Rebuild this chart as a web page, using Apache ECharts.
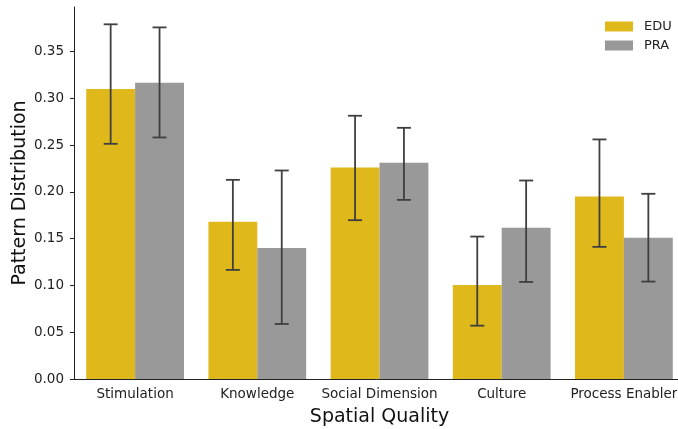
<!DOCTYPE html>
<html><head><meta charset="utf-8">
<script src="https://cdn.jsdelivr.net/npm/echarts@6/dist/echarts.min.js"></script>
<style>html,body{margin:0;padding:0;background:#fff}#c{width:678px;height:429px}</style>
</head><body><div id="c"></div>
<script>
const categories = ['Stimulation', 'Knowledge', 'Social Dimension', 'Culture', 'Process Enabler'];
const eduValues = [0.310, 0.168, 0.226, 0.1005, 0.195];
const praValues = [0.3165, 0.140, 0.231, 0.1615, 0.1508];
const eduLow  = [0.2513, 0.1166, 0.1697, 0.0570, 0.1412];
const eduHigh = [0.3790, 0.2128, 0.2813, 0.1522, 0.2560];
const praLow  = [0.2581, 0.0588, 0.1914, 0.1037, 0.1041];
const praHigh = [0.3757, 0.2228, 0.2684, 0.2121, 0.1979];
const yTicks = [0, 0.05, 0.10, 0.15, 0.20, 0.25, 0.30, 0.35];

const FONT = 'DejaVu Sans';
const chart = echarts.init(document.getElementById('c'), null, {renderer: 'canvas'});

function errSeries(low, high, offset) {
  return {
    type: 'custom',
    silent: true,
    z: 10,
    clip: false,
    data: categories.map((c, i) => [i, low[i], high[i]]),
    encode: {x: 0, y: [1, 2]},
    renderItem: function (params, api) {
      const i = api.value(0);
      const band = api.size([1, 0])[0];
      const p1 = api.coord([i, api.value(1)]);
      const p2 = api.coord([i, api.value(2)]);
      const x = p1[0] + offset * band;
      const hw = 7;
      const style = {stroke: '#3f3f3f', lineWidth: 1.8};
      return {
        type: 'group',
        children: [
          {type: 'line', shape: {x1: x, y1: p1[1], x2: x, y2: p2[1]}, style: style},
          {type: 'line', shape: {x1: x - hw, y1: p1[1], x2: x + hw, y2: p1[1]}, style: style},
          {type: 'line', shape: {x1: x - hw, y1: p2[1], x2: x + hw, y2: p2[1]}, style: style}
        ]
      };
    }
  };
}

chart.setOption({
  animation: false,
  backgroundColor: '#fff',
  textStyle: {fontFamily: FONT},
  grid: {left: 74, width: 611, top: 7, bottom: 50, containLabel: false, outerBoundsMode: 'none'},
  legend: {
    data: ['EDU', 'PRA'],
    orient: 'vertical',
    left: 605, top: 20, padding: 0,
    itemWidth: 28, itemHeight: 10, itemGap: 6,
    icon: 'rect',
    textStyle: {fontFamily: FONT, fontSize: 13, color: '#222', padding: [0, 0, 0, 6]}
  },
  xAxis: {
    type: 'category',
    data: categories,
    name: 'Spatial Quality',
    nameLocation: 'middle',
    nameGap: 29,
    nameMoveOverlap: false,
    nameTextStyle: {fontFamily: FONT, fontSize: 19, color: '#111'},
    axisLine: {lineStyle: {color: '#222', width: 1}},
    axisTick: {alignWithLabel: true, length: 4, lineStyle: {color: '#222'}},
    axisLabel: {fontFamily: FONT, fontSize: 13.5, color: '#222', margin: 8, interval: 0}
  },
  yAxis: {
    type: 'value',
    min: 0, max: 0.3975,
    name: 'Pattern Distribution',
    nameLocation: 'middle',
    nameGap: 44,
    nameMoveOverlap: false,
    nameTextStyle: {fontFamily: FONT, fontSize: 19, color: '#111'},
    splitLine: {show: false},
    axisLine: {show: true, lineStyle: {color: '#222', width: 1}},
    axisTick: {show: true, length: 4, lineStyle: {color: '#222'}, customValues: yTicks},
    axisLabel: {fontFamily: FONT, fontSize: 13.5, color: '#222', margin: 10,
      customValues: yTicks, formatter: v => v.toFixed(2)}
  },
  series: [
    {name: 'EDU', type: 'bar', data: eduValues, itemStyle: {color: '#DFB81C'},
      barGap: '0%', barCategoryGap: '20%'},
    {name: 'PRA', type: 'bar', data: praValues, itemStyle: {color: '#999999'},
      barGap: '0%', barCategoryGap: '20%'},
    errSeries(eduLow, eduHigh, -0.2),
    errSeries(praLow, praHigh, 0.2)
  ]
});
</script>
</body></html>
